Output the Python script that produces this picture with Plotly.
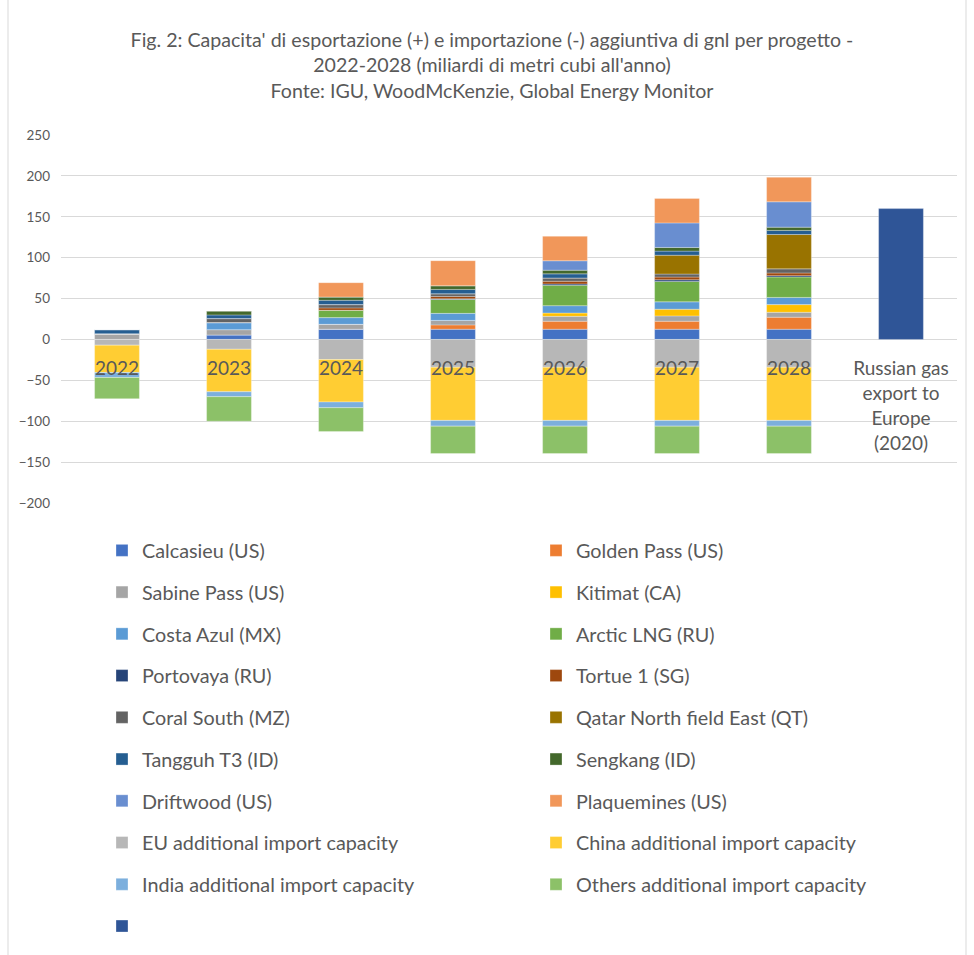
import plotly.graph_objects as go

# Categories (the last one is the Russian export reference bar)
categories = ["2022", "2023", "2024", "2025", "2026", "2027", "2028",
              "Russian gas<br>export to<br>Europe<br>(2020)"]

# Additional LNG export capacity by project (bcm/year), 2022-2028
calcasieu    = [0,   5.5, 12.5, 12.5, 12.5, 12.5, 12.5]
golden_pass  = [0,   0,    0,    5.3,  9.8,  9.8, 14.7]
sabine_pass  = [7,   6.5,  6,    5.5,  6,    6.5,  6]
kitimat      = [0,   0,    0,    0,    4,    8.2,  9.4]
costa_azul   = [0,   8.6,  8.2,  8.6,  9,    9,    8.8]
arctic_lng   = [0,   0,    9,   17,   25,   25,   25]
portovaya    = [0,   0,    0,    0.8,  1.6,  2,    1.6]
tortue       = [0,   0,    2.9,  2.9,  3.3,  3.3,  3.3]
coral_south  = [0,   4.9,  4,    3.3,  4,    3.7,  5]
qatar_nfe    = [0,   0,    0,    0,    0,   23,   42]
tangguh      = [5,   4.5,  5.3,  5.3,  5,    5,    5]
sengkang     = [0,   4.9,  4,    4.5,  4.5,  4.5,  4]
driftwood    = [0,   0,    0,    0,   11.5, 30,   31]
plaquemines  = [0,   0,   17.5, 30.6, 30,   30,   30]

# Additional LNG import capacity (negative, bcm/year)
eu_import     = [-7,  -12, -24.5, -34, -34, -34, -34]
china_import  = [-33.5, -52, -52, -65, -65, -65, -65]
india_import  = [-6,  -6,  -7,  -7,  -7,  -7,  -7]
others_import = [-26, -30, -29, -33.5, -33.5, -33.5, -33.5]

# Russian pipeline gas export to Europe in 2020 (bcm)
russian_export = 160

series = [
    ("Calcasieu (US)", calcasieu, "#4472C4"),
    ("Golden Pass (US)", golden_pass, "#ED7D31"),
    ("Sabine Pass (US)", sabine_pass, "#A5A5A5"),
    ("Kitimat (CA)", kitimat, "#FFC000"),
    ("Costa Azul (MX)", costa_azul, "#5B9BD5"),
    ("Arctic LNG (RU)", arctic_lng, "#70AD47"),
    ("Portovaya (RU)", portovaya, "#264478"),
    ("Tortue 1 (SG)", tortue, "#9E480E"),
    ("Coral South (MZ)", coral_south, "#636363"),
    ("Qatar North field East (QT)", qatar_nfe, "#997300"),
    ("Tangguh T3 (ID)", tangguh, "#255E91"),
    ("Sengkang (ID)", sengkang, "#43682B"),
    ("Driftwood (US)", driftwood, "#698ED0"),
    ("Plaquemines (US)", plaquemines, "#F1975A"),
    ("EU additional import capacity", eu_import, "#B7B7B7"),
    ("China additional import capacity", china_import, "#FFCD33"),
    ("India additional import capacity", india_import, "#7CAFDD"),
    ("Others additional import capacity", others_import, "#8CC168"),
]

TEXT = "#595959"
FONT = "Lato, 'Open Sans', sans-serif"

fig = go.Figure()
for i, (name, vals, color) in enumerate(series):
    fig.add_trace(go.Bar(
        x=categories[:7], y=vals, name=name,
        marker=dict(color=color, line=dict(color="rgba(255,255,255,0.5)", width=0.6)),
        legend="legend" if i % 2 == 0 else "legend2",
        legendgroup=f"g{i}",
    ))

fig.add_trace(go.Bar(
    x=[categories[-1]], y=[russian_export], name="",
    marker=dict(color="#2F5597", line=dict(color="rgba(255,255,255,0.5)", width=0.6)),
    showlegend=True, legend="legend", legendgroup="g18",
))

# Canvas geometry in pixels
W, H = 974, 955
plot_left, plot_right, plot_top, plot_bottom = 61, 957, 135, 503
y_min, y_max = -200, 250
plot_h = plot_bottom - plot_top
plot_w = plot_right - plot_left

def px_to_paper_x(px):
    return (px - plot_left) / plot_w

def px_to_paper_y(py):
    return (plot_bottom - py) / plot_h

legend_font = dict(size=19.8, color=TEXT, family=FONT)

fig.update_layout(
    width=W, height=H,
    margin=dict(l=plot_left, r=W - plot_right, t=plot_top, b=H - plot_bottom,
                pad=0, autoexpand=False),
    paper_bgcolor="white", plot_bgcolor="white",
    barmode="relative", bargap=0.6,
    font=dict(family=FONT, color=TEXT),
    title=dict(
        text="Fig. 2: Capacita' di esportazione (+) e importazione (-) aggiuntiva di gnl per progetto -<br>"
             "2022-2028 (miliardi di metri cubi all'anno)<br>"
             "Fonte: IGU, WoodMcKenzie, Global Energy Monitor",
        x=492 / W, xanchor="center", xref="container",
        y=1 - 47 / H, yanchor="top", yref="container",
        font=dict(size=19.6, color=TEXT, family=FONT),
    ),
    xaxis=dict(
        type="category", categoryorder="array", categoryarray=categories,
        anchor="free", position=(0 - y_min) / (y_max - y_min),
        showgrid=False, showline=False, zeroline=False, ticks="",
        tickfont=dict(size=19, color=TEXT, family=FONT),
        ticklabelstandoff=16,
    ),
    yaxis=dict(
        range=[y_min, y_max], tickvals=list(range(-200, 251, 50)),
        showgrid=True, gridcolor="#D9D9D9", gridwidth=1,
        zeroline=True, zerolinecolor="#D9D9D9", zerolinewidth=1,
        tickfont=dict(size=13.5, color=TEXT, family=FONT),
        ticks="", ticklabelstandoff=10,
    ),
    legend=dict(
        orientation="v", x=px_to_paper_x(102), xanchor="left",
        y=px_to_paper_y(531), yanchor="top",
        font=legend_font,
        tracegroupgap=13, bgcolor="rgba(0,0,0,0)", traceorder="grouped",
    ),
    legend2=dict(
        orientation="v", x=px_to_paper_x(536), xanchor="left",
        y=px_to_paper_y(531), yanchor="top",
        font=legend_font,
        tracegroupgap=13, bgcolor="rgba(0,0,0,0)", traceorder="grouped",
    ),
    showlegend=True,
)

# Chart-area frame (left and right edges)
for xpix in (8, 966):
    fig.add_shape(type="line", xref="paper", yref="paper",
                  x0=px_to_paper_x(xpix), x1=px_to_paper_x(xpix),
                  y0=px_to_paper_y(-5), y1=px_to_paper_y(H + 5),
                  line=dict(color="#D9D9D9", width=1), layer="below")

fig.write_html("out.html")
